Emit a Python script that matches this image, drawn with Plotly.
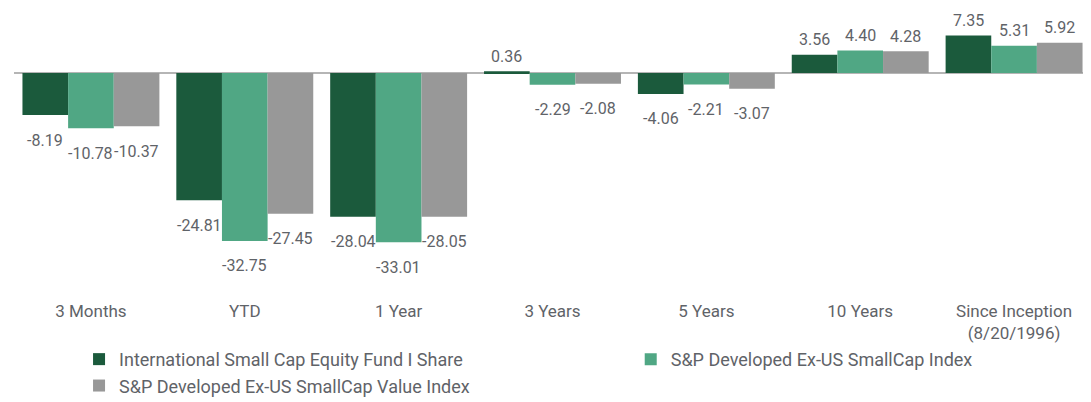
import plotly.graph_objects as go

categories = ["3 Months", "YTD", "1 Year", "3 Years", "5 Years", "10 Years",
              "Since Inception<br>(8/20/1996)"]
series_names = ["International Small Cap Equity Fund I Share",
                "S&P Developed Ex-US SmallCap Index",
                "S&P Developed Ex-US SmallCap Value Index"]
fund = [-8.19, -24.81, -28.04, 0.36, -4.06, 3.56, 7.35]
index_sc = [-10.78, -32.75, -33.01, -2.29, -2.21, 4.40, 5.31]
index_val = [-10.37, -27.45, -28.05, -2.08, -3.07, 4.28, 5.92]
colors = ["#1b5a3c", "#50a784", "#989898"]
legend_ids = ["legend", "legend2", "legend"]

series_values = [fund, index_sc, index_val]
bargap = 0.11
text_color = "#5f6368"
font_family = "Roboto, 'Liberation Sans', sans-serif"

fig = go.Figure()
for name, vals, col, lg in zip(series_names, series_values, colors, legend_ids):
    fig.add_trace(go.Bar(
        x=categories, y=vals, name=name,
        marker=dict(color=col, line=dict(width=0)),
        hoverinfo="skip", legend=lg,
    ))

# data labels as annotations offset from bar ends
w = (1 - bargap) / len(series_values)
for k, vals in enumerate(series_values):
    for i, v in enumerate(vals):
        fig.add_annotation(
            x=i + (k - 1) * w, y=v, xref="x", yref="y",
            text=f"{v:.2f}", showarrow=False,
            yshift=15 if v >= 0 else -25,
            font=dict(size=16, color=text_color, family=font_family),
        )

legend_style = dict(orientation="v", xref="container", yref="container",
                    xanchor="left", yanchor="top",
                    font=dict(size=18, color=text_color), traceorder="normal",
                    bgcolor="rgba(0,0,0,0)")

fig.update_layout(
    width=1083, height=394,
    barmode="group", bargap=bargap, bargroupgap=0,
    plot_bgcolor="white", paper_bgcolor="white",
    margin=dict(l=6, r=0, t=0, b=106, autoexpand=False),
    font=dict(family=font_family, size=16, color=text_color),
    xaxis=dict(showgrid=False, showline=False, ticks="", tickfont=dict(size=17, color=text_color),
               range=[-0.5, 6.5], tickangle=0, ticklabelstandoff=3),
    yaxis=dict(showgrid=False, showticklabels=False, zeroline=True,
               zerolinecolor="#b5b5b5", zerolinewidth=2, range=[-43.5, 12.7]),
    legend=dict(x=0.0656, y=0.155, **legend_style),
    legend2=dict(x=0.575, y=0.155, **legend_style),
    showlegend=True,
)

fig.write_html("out.html")
